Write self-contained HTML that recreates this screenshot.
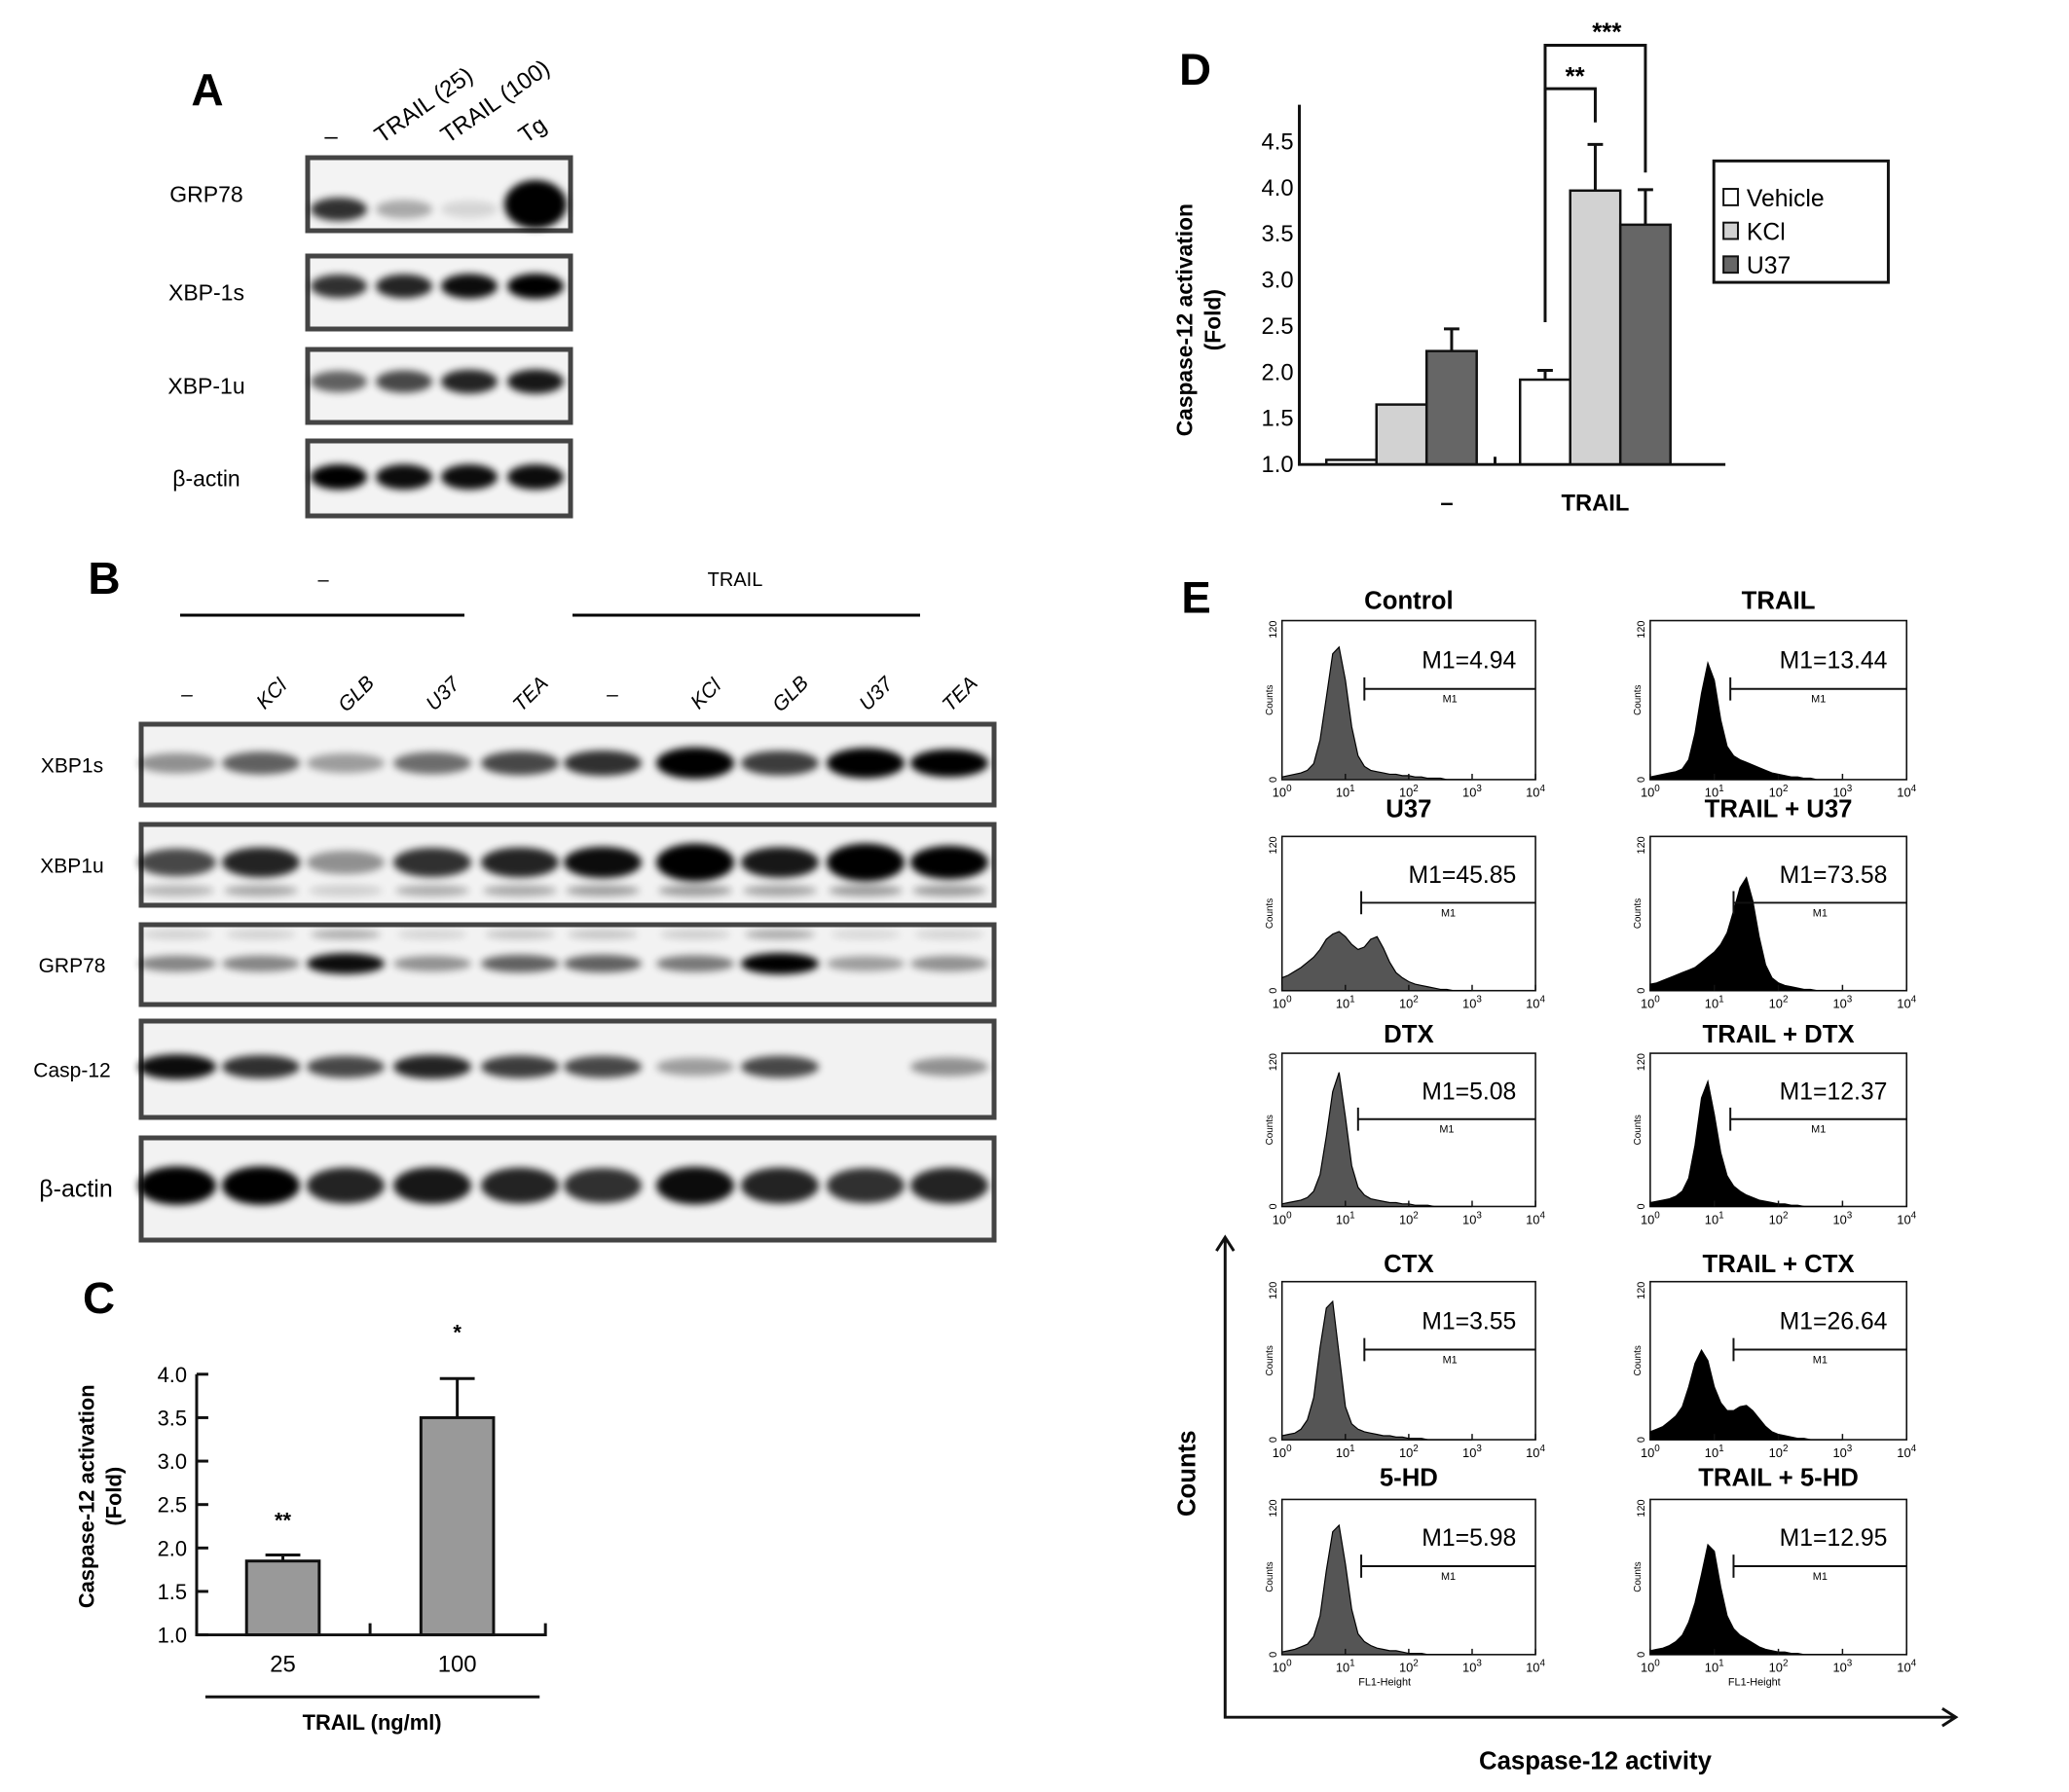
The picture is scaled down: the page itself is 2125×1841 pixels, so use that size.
<!DOCTYPE html>
<html><head><meta charset="utf-8"><style>
body{margin:0;background:#fff}
svg{display:block;font-family:"Liberation Sans",Arial,sans-serif}
</style></head><body>
<svg id="fig" width="2125" height="1841" viewBox="0 0 2125 1841" xmlns="http://www.w3.org/2000/svg">
<defs>
<filter id="blur4" x="-30%" y="-100%" width="160%" height="300%"><feGaussianBlur stdDeviation="4"/></filter>
<filter id="blur8" x="-30%" y="-100%" width="160%" height="300%"><feGaussianBlur stdDeviation="7"/></filter>
</defs>
<g id="panelA"></g>
<g id="panelB"></g>
<g id="panelC" transform="scale(0.995)"></g>
<g id="panelD" transform="scale(0.99)"></g>
<g id="panelE" transform="scale(0.99)"></g>
</svg>
<script>
// ---------- Panel C data ----------
const cCategories = ["25", "100"];
const cValues = [1.85, 3.5];
const cErrors = [1.92, 3.95];
const cStars = ["**", "*"];
const cTicks = [1.0, 1.5, 2.0, 2.5, 3.0, 3.5, 4.0];

// ---------- Panel D data ----------
const dGroups = ["–", "TRAIL"];
const dSeries = ["Vehicle", "KCl", "U37"];
const dVehicle = [1.05, 1.92];
const dKCl = [1.65, 3.97];
const dU37 = [2.23, 3.6];
const dVehicleErr = [null, 2.02];
const dKClErr = [null, 4.47];
const dU37Err = [2.47, 3.98];
const dTicks = [1.0, 1.5, 2.0, 2.5, 3.0, 3.5, 4.0, 4.5];

// ---------- Panel A data ----------
const aLanes = ["–", "TRAIL (25)", "TRAIL (100)", "Tg"];
const aProteins = ["GRP78", "XBP-1s", "XBP-1u", "β-actin"];
const aGRP78 = [0.8, 0.3, 0.12, 1.0];
const aXBP1s = [0.8, 0.85, 0.95, 1.0];
const aXBP1u = [0.6, 0.7, 0.85, 0.9];
const aActin = [1.0, 0.95, 0.95, 0.95];

// ---------- Panel B data ----------
const bLanes = ["–", "KCl", "GLB", "U37", "TEA", "–", "KCl", "GLB", "U37", "TEA"];
const bProteins = ["XBP1s", "XBP1u", "GRP78", "Casp-12", "β-actin"];
const bXBP1s = [0.4, 0.6, 0.35, 0.55, 0.7, 0.8, 1.3, 0.75, 1.2, 1.0];
const bXBP1u = [0.7, 0.85, 0.4, 0.8, 0.85, 0.95, 1.4, 0.9, 1.4, 1.1];
const bGRP78 = [0.45, 0.45, 0.95, 0.4, 0.6, 0.6, 0.5, 1.0, 0.35, 0.4];
const bCasp12 = [0.95, 0.8, 0.7, 0.85, 0.75, 0.7, 0.35, 0.7, 0.0, 0.4];
const bActin = [1.0, 1.0, 0.85, 0.9, 0.85, 0.8, 0.95, 0.85, 0.8, 0.85];

// ---------- Panel E data (counts per 0.1-decade bin, from 10^0) ----------
const eTitles = ["Control", "TRAIL", "U37", "TRAIL + U37", "DTX", "TRAIL + DTX", "CTX", "TRAIL + CTX", "5-HD", "TRAIL + 5-HD"];
const eM1 = ["4.94", "13.44", "45.85", "73.58", "5.08", "12.37", "3.55", "26.64", "5.98", "12.95"];
const eGate = [1.3, 1.25, 1.25, 1.3, 1.2, 1.25, 1.3, 1.3, 1.25, 1.3];
const hControl = [2,3,4,5,7,12,30,62,95,100,75,40,18,10,7,6,5,4,4,3,3,2,2,1,1,1,0,0,0,0];
const hTrail = [2,3,4,5,6,8,15,35,65,88,75,45,25,18,15,13,11,9,7,5,4,3,2,2,1,1,0,0,0,0];
const hU37 = [10,12,15,18,22,26,32,40,44,46,42,36,32,34,40,42,33,22,14,10,7,5,4,3,2,1,1,0,0,0];
const hTrailU37 = [5,6,8,10,12,14,16,18,22,26,30,36,45,62,80,88,70,42,20,10,6,4,3,2,1,1,0,0,0,0];
const hDTX = [2,3,4,5,7,12,25,55,90,105,70,32,15,9,6,5,4,3,3,2,2,1,1,1,0,0,0,0,0,0];
const hTrailDTX = [3,4,5,6,8,12,22,48,85,98,72,42,24,16,12,9,7,5,4,3,2,2,1,1,0,0,0,0,0,0];
const hCTX = [3,4,5,8,15,32,70,100,105,65,25,12,8,6,5,4,3,3,2,2,1,1,1,0,0,0,0,0,0,0];
const hTrailCTX = [6,8,10,14,18,25,40,58,68,60,40,28,22,22,25,26,22,16,10,6,4,3,2,1,1,0,0,0,0,0];
const h5HD = [2,3,4,6,8,14,30,65,95,100,70,35,16,10,7,5,4,3,3,2,1,1,1,0,0,0,0,0,0,0];
const hTrail5HD = [3,4,5,7,10,15,25,40,62,85,80,52,30,20,15,12,9,6,4,3,2,2,1,1,0,0,0,0,0,0];

const NS = "http://www.w3.org/2000/svg";
function mk(parent, tag, attrs, text) {
  const el = document.createElementNS(NS, tag);
  for (const k in attrs) el.setAttribute(k, attrs[k]);
  if (text !== undefined) el.textContent = text;
  parent.appendChild(el);
  return el;
}

// ================= Panel A =================
(function () {
  const g = document.getElementById("panelA");
  let t = mk(g, "text", {x: 213, y: 108, "font-size": 46, "font-weight": "bold", "text-anchor": "middle"}, "A");
  
  
  const lanesX = [348, 415, 482, 550];
  const labelX = [340, 392, 460, 540];
  aLanes.forEach((l, i) => {
    const tl = mk(g, "text", {x: labelX[i], y: 148, "font-size": 24, "text-anchor": "start", transform: i === 0 ? "" : `rotate(-35 ${labelX[i]} 148)`}, l);
    if (i === 0) { tl.setAttribute("text-anchor", "middle"); }
    
    
  });
  const boxes = [[162, 237, aGRP78, 215], [263, 338, aXBP1s, 294], [359, 434, aXBP1u, 392], [453, 530, aActin, 490]];
  boxes.forEach((b, bi) => {
    const [y0, y1, vals, by] = b;
    const box = mk(g, "rect", {x: 316, y: y0, width: 270, height: y1 - y0, fill: "#f3f3f3", stroke: "#444", "stroke-width": 5});
    
    
    const lab = mk(g, "text", {x: 212, y: (y0 + y1) / 2 + 8, "font-size": 23, "text-anchor": "middle"}, aProteins[bi]);
    
    
    vals.forEach((v, i) => {
      let h = 16 + v * 10, w = 58, cy = by, op = Math.min(1, v);
      if (bi === 0 && i === 3) { h = 50; w = 64; cy = 210; }
      if (bi === 3) { h = 26; }
      const e = mk(g, "ellipse", {cx: lanesX[i], cy: cy, rx: w / 2, ry: h / 2, fill: "#000", opacity: op, filter: "url(#blur4)"});
      
      
    });
  });
})();

// ================= Panel B =================
(function () {
  const g = document.getElementById("panelB");
  let t = mk(g, "text", {x: 107, y: 610, "font-size": 46, "font-weight": "bold", "text-anchor": "middle"}, "B");
  
  
  t = mk(g, "text", {x: 332, y: 602, "font-size": 20, "text-anchor": "middle"}, "–");
  
  
  t = mk(g, "text", {x: 755, y: 602, "font-size": 20, "text-anchor": "middle"}, "TRAIL");
  
  
  let l = mk(g, "line", {x1: 185, x2: 477, y1: 632, y2: 632, stroke: "#000", "stroke-width": 3});
  
  
  l = mk(g, "line", {x1: 588, x2: 945, y1: 632, y2: 632, stroke: "#000", "stroke-width": 3});
  
  
  const lanesX = [182, 268, 355, 444, 534, 619, 714, 801, 889, 975];
  bLanes.forEach((ln, i) => {
    const x = lanesX[i] + 10, y = 720;
    const tl = mk(g, "text", {x: x, y: y, "font-size": 21, "font-style": "italic", "text-anchor": "middle", transform: ln === "–" ? "" : `rotate(-45 ${x} ${y - 8})`}, ln);
    
    
  });
  const strips = [[744, 827, bXBP1s, 784, 26], [847, 930, bXBP1u, 886, 30], [950, 1032, bGRP78, 990, 20], [1049, 1148, bCasp12, 1096, 24], [1169, 1274, bActin, 1218, 36]];
  strips.forEach((s, si) => {
    const [y0, y1, vals, by, bh] = s;
    const box = mk(g, "rect", {x: 145, y: y0, width: 876, height: y1 - y0, fill: "#f2f2f2", stroke: "#444", "stroke-width": 5});
    
    
    const lab = mk(g, "text", {x: si === 4 ? 78 : 74, y: (y0 + y1) / 2 + 8, "font-size": si === 4 ? 25 : 21, "text-anchor": "middle"}, bProteins[si]);
    
    
    vals.forEach((v, i) => {
      if (v <= 0) return;
      const h = bh * (0.6 + 0.5 * Math.min(v, 1.4));
      const e = mk(g, "ellipse", {cx: lanesX[i], cy: by, rx: 40, ry: h / 2, fill: "#000", opacity: Math.min(1, v), filter: "url(#blur4)"});
      
      
      if (si === 1) {
        const e2 = mk(g, "ellipse", {cx: lanesX[i], cy: 915, rx: 38, ry: 6, fill: "#000", opacity: 0.35 * Math.min(1, v), filter: "url(#blur4)"});
        
        
      }
      if (si === 2) {
        const e3 = mk(g, "ellipse", {cx: lanesX[i], cy: 960, rx: 36, ry: 5, fill: "#000", opacity: 0.3 * Math.min(1, v), filter: "url(#blur4)"});
        
        
      }
    });
  });
})();

// ================= Panel C =================
(function () {
  const g = document.getElementById("panelC");
  const y = v => 1688 - (v - 1) * 89.7;
  const xC = i => 292 + i * 180;
  const bw = 75;
  let t = mk(g, "text", {x: 102, y: 1356, "font-size": 46, "font-weight": "bold", "text-anchor": "middle"}, "C");
  
  
  cValues.forEach((v, i) => {
    const r = mk(g, "rect", {x: xC(i) - bw / 2, y: y(v), width: bw, height: y(1) - y(v), fill: "#999", stroke: "#111", "stroke-width": 3});
    
    
    const el = mk(g, "path", {d: `M${xC(i)},${y(v)}V${y(cErrors[i])}M${xC(i) - 18},${y(cErrors[i])}H${xC(i) + 18}`, stroke: "#111", "stroke-width": 3, fill: "none"});
    
    
    const s = mk(g, "text", {x: xC(i), y: y(cErrors[i]) - (i === 0 ? 28 : 40), "font-size": 22, "font-weight": "bold", "text-anchor": "middle"}, cStars[i]);
    
    
    const cl = mk(g, "text", {x: xC(i), y: 1726, "font-size": 24, "text-anchor": "middle"}, cCategories[i]);
    
    
  });
  const ax = mk(g, "path", {d: `M203,${y(4)}V${y(1)}H563V${y(1) - 12}M382,${y(1)}V${y(1) - 12}`, stroke: "#111", "stroke-width": 3, fill: "none"});
  
  
  cTicks.forEach(v => {
    const tk = mk(g, "line", {x1: 203, x2: 215, y1: y(v), y2: y(v), stroke: "#111", "stroke-width": 3});
    
    
    const tl = mk(g, "text", {x: 193, y: y(v) + 8, "font-size": 22, "text-anchor": "end"}, v.toFixed(1));
    
    
  });
  const yt = mk(g, "text", {x: 0, y: 0, "font-size": 22, "font-weight": "bold", "text-anchor": "middle", transform: "translate(97,1545) rotate(-90)"});
  
  
  mk(yt, "tspan", {x: 0, dy: 0}, "Caspase-12 activation");
  mk(yt, "tspan", {x: 0, dy: 28}, "(Fold)");
  const ln = mk(g, "line", {x1: 212, x2: 557, y1: 1752, y2: 1752, stroke: "#111", "stroke-width": 3});
  
  
  const xt = mk(g, "text", {x: 384, y: 1786, "font-size": 22, "font-weight": "bold", "text-anchor": "middle"}, "TRAIL (ng/ml)");
  
  
})();

// ================= Panel D =================
(function () {
  const g = document.getElementById("panelD");
  const y = v => 482 - (v - 1) * 95.7;
  const bw = 52;
  const gx = gi => 1376 + gi * 201;
  const series = [dVehicle, dKCl, dU37];
  const errs = [dVehicleErr, dKClErr, dU37Err];
  const fills = ["#fff", "#d2d2d2", "#666"];
  let t = mk(g, "text", {x: 1240, y: 88, "font-size": 46, "font-weight": "bold", "text-anchor": "middle"}, "D");
  
  
  series.forEach((arr, si) => {
    arr.forEach((v, gi) => {
      const x = gx(gi) + si * bw;
      const r = mk(g, "rect", {x: x, y: y(v), width: bw, height: y(1) - y(v), fill: fills[si], stroke: "#111", "stroke-width": 2.5});
      
      
      const e = errs[si][gi];
      if (e !== null) {
        const cx = x + bw / 2;
        const eb = mk(g, "path", {d: `M${cx},${y(v)}V${y(e)}M${cx - 8},${y(e)}H${cx + 8}`, stroke: "#111", "stroke-width": 3, fill: "none"});
        
        
      }
    });
  });
  const ax = mk(g, "path", {d: `M1348,${y(4.9)}V${y(1)}H1790M1551,${y(1)}V${y(1) - 8}`, stroke: "#111", "stroke-width": 3, fill: "none"});
  
  
  dTicks.forEach(v => {
    const tl = mk(g, "text", {x: 1342, y: y(v) + 8, "font-size": 24, "text-anchor": "end"}, v.toFixed(1));
    
    
  });
  dGroups.forEach((gname, gi) => {
    const tl = mk(g, "text", {x: gx(gi) + 1.5 * bw + (gi === 0 ? 47 : 0), y: 530, "font-size": 24, "font-weight": "bold", "text-anchor": "middle"}, gname);
    
    
  });
  const yt = mk(g, "text", {x: 0, y: 0, "font-size": 23, "font-weight": "bold", "text-anchor": "middle", transform: "translate(1237,332) rotate(-90)"});
  
  
  mk(yt, "tspan", {x: 0, dy: 0}, "Caspase-12 activation");
  mk(yt, "tspan", {x: 0, dy: 29}, "(Fold)");
  const vx = gx(1) + bw / 2, kx = gx(1) + 1.5 * bw, ux = gx(1) + 2.5 * bw;
  const b1 = mk(g, "path", {d: `M${vx},${y(dVehicleErr[1]) - 50}V92H${kx}V127`, stroke: "#111", "stroke-width": 3, fill: "none"});
  
  
  const b2 = mk(g, "path", {d: `M${vx},${y(dVehicleErr[1]) - 250}V47H${ux}V179`, stroke: "#111", "stroke-width": 3, fill: "none"});
  
  
  let s = mk(g, "text", {x: (vx + kx) / 2 + 5, y: 88, "font-size": 26, "font-weight": "bold", "text-anchor": "middle"}, "**");
  
  
  s = mk(g, "text", {x: (vx + ux) / 2 + 12, y: 42, "font-size": 26, "font-weight": "bold", "text-anchor": "middle"}, "***");
  
  
  const lg = mk(g, "g", {});
  
  
  mk(lg, "rect", {x: 1778, y: 167, width: 181, height: 126, fill: "#fff", stroke: "#111", "stroke-width": 3});
  dSeries.forEach((sn, i) => {
    const yy = 205 + i * 35;
    const sq = mk(lg, "rect", {x: 1788, y: yy - 9, width: 15, height: 17, fill: fills[i], stroke: "#111", "stroke-width": 2});
    
    
    const lt = mk(lg, "text", {x: 1812, y: yy + 9, "font-size": 25}, sn);
    
    
  });
})();

// ================= Panel E =================
(function () {
  const g = document.getElementById("panelE");
  const hists = [hControl, hTrail, hU37, hTrailU37, hDTX, hTrailDTX, hCTX, hTrailCTX, h5HD, hTrail5HD];
  const rows = [[644, 809], [868, 1028], [1093, 1252], [1330, 1494], [1556, 1717]];
  const titleY = [632, 848, 1082, 1320, 1542];
  const cols = [[1330, 1593], [1712, 1978]];
  let t = mk(g, "text", {x: 1241, y: 636, "font-size": 46, "font-weight": "bold", "text-anchor": "middle"}, "E");
  
  
  hists.forEach((data, k) => {
    const r = Math.floor(k / 2), c = k % 2;
    const [x0, x1] = cols[c], [y0, y1] = rows[r];
    const w = x1 - x0, h = y1 - y0;
    const xs = dec => x0 + dec / 4 * w;
    const ys = n => y1 - n / 120 * h;
    const pg = mk(g, "g", {});
    
    
    const tt = mk(pg, "text", {x: (x0 + x1) / 2, y: titleY[r], "font-size": 26, "font-weight": "bold", "text-anchor": "middle"}, eTitles[k]);
    
    
    const fr = mk(pg, "rect", {x: x0, y: y0, width: w, height: h, fill: "#fff", stroke: "#111", "stroke-width": 1.6});
    
    
    let d = `M${xs(0)},${ys(0)}`;
    data.forEach((n, i) => { d += `L${xs(i * 0.1).toFixed(1)},${ys(n).toFixed(1)}`; });
    d += `L${xs(data.length * 0.1).toFixed(1)},${ys(0)}Z`;
    const hp = mk(pg, "path", {d: d, fill: c === 0 ? "#555" : "#000", stroke: "#000", "stroke-width": 1.2});
    
    
    const gy = y0 + 0.43 * h, gxs = xs(eGate[k]);
    const gate = mk(pg, "path", {d: `M${gxs},${gy - 12}V${gy + 12}M${gxs},${gy}H${x1}`, stroke: "#111", "stroke-width": 2, fill: "none"});
    
    
    const gl = mk(pg, "text", {x: (gxs + x1) / 2, y: gy + 14, "font-size": 11, "text-anchor": "middle"}, "M1");
    
    
    const mt = mk(pg, "text", {x: x1 - 20, y: y0 + 0.3 * h, "font-size": 25, "text-anchor": "end"}, "M1=" + eM1[k]);
    
    
    for (let dec = 0; dec <= 4; dec++) {
      const tk = mk(pg, "line", {x1: xs(dec), x2: xs(dec), y1: y1, y2: y1 - 6, stroke: "#111", "stroke-width": 1.5});
      
      
      const lb = mk(pg, "text", {x: xs(dec), y: y1 + 18, "font-size": 13, "text-anchor": "middle"});
      
      
      mk(lb, "tspan", {}, "10");
      mk(lb, "tspan", {dy: -6, "font-size": 10}, String(dec));
    }
    const a = mk(pg, "text", {x: 0, y: 0, "font-size": 11, "text-anchor": "end", transform: `translate(${x0 - 6},${y0}) rotate(-90)`}, "120");
    
    
    const b = mk(pg, "text", {x: 0, y: 0, "font-size": 11, "text-anchor": "middle", transform: `translate(${x0 - 6},${y1}) rotate(-90)`}, "0");
    
    
    const cl = mk(pg, "text", {x: 0, y: 0, "font-size": 10, "text-anchor": "middle", transform: `translate(${x0 - 10},${(y0 + y1) / 2}) rotate(-90)`}, "Counts");
    
    
    if (r === 4) {
      const fl = mk(pg, "text", {x: (x0 + x1) / 2 - 25, y: y1 + 32, "font-size": 11, "text-anchor": "middle"}, "FL1-Height");
      
      
    }
  });
  const axes = mk(g, "path", {d: "M1271,1284V1782H2029M1262,1298L1271,1284L1280,1298M2015,1773L2029,1782L2015,1791", stroke: "#111", "stroke-width": 3, fill: "none"});
  
  
  const ct = mk(g, "text", {x: 0, y: 0, "font-size": 26, "font-weight": "bold", "text-anchor": "middle", transform: "translate(1240,1529) rotate(-90)"}, "Counts");
  
  
  const xt = mk(g, "text", {x: 1655, y: 1836, "font-size": 26, "font-weight": "bold", "text-anchor": "middle"}, "Caspase-12 activity");
  
  
})();
</script>
</body></html>
